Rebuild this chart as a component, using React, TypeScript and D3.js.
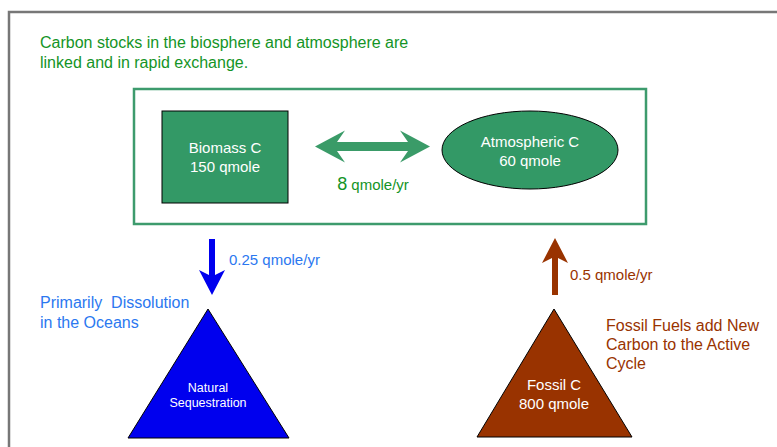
import React, { useRef, useEffect } from "react";
import * as d3 from "d3";

const W = 777;
const H = 447;

// carbon stocks, qmole
const stockNames = ["Biomass C", "Atmospheric C", "Natural Sequestration", "Fossil C"];
const stockValues: (number | null)[] = [150, 60, null, 800];
// fluxes, qmole/yr
const fluxNames = ["exchange", "sequestration", "fossil"];
const fluxValues = [8, 0.25, 0.5];
const fluxUnit = "qmole/yr";
const stockUnit = "qmole";

const headline = ["Carbon stocks in the biosphere and atmosphere are", "linked and in rapid exchange."];
const oceanNote = ["Primarily  Dissolution", "in the Oceans"];
const fossilNote = ["Fossil Fuels add New", "Carbon to the Active", "Cycle"];

const FONT = "'Liberation Sans', Arial, sans-serif";
const GREEN = "#339966";
const GREEN_TXT = "#149426";
const BLUE = "#0000ee";
const BLUE_TXT = "#2b78f0";
const BROWN = "#993300";

type Pt = [number, number];

export default function App() {
  const svgRef = useRef<SVGSVGElement>(null);

  useEffect(() => {
    drawChart();
  }, []);

  function drawChart() {
    const svg = d3.select(svgRef.current);
    svg.selectAll("*").remove();

    const poly = d3.line<Pt>().x((d) => d[0]).y((d) => d[1]);
    const shape = (pts: Pt[]) => poly(pts) + "Z";

    // vertical arrow, notched head (tip side given by yTip)
    const vArrow = (cx: number, yTail: number, yTip: number, s: number, hh: number, hl: number, n: number): Pt[] => {
      const dir = yTip > yTail ? 1 : -1;
      const outer = yTip - dir * hl;
      const join = yTip - dir * (hl - n);
      return [
        [cx - s, yTail], [cx - s, join], [cx - hh, outer], [cx, yTip],
        [cx + hh, outer], [cx + s, join], [cx + s, yTail],
      ];
    };

    const lines = (g: any, rows: string[], x: number, y: number, dy: number, size: number, color: string, anchor = "start") => {
      const t = g.append("text")
        .attr("font-family", FONT)
        .attr("font-size", size)
        .attr("fill", color)
        .attr("text-anchor", anchor)
        .style("white-space", "pre");
      rows.forEach((r, i) => {
        t.append("tspan").attr("x", x).attr("y", y + i * dy).text(r);
      });
    };

    // outer slide frame
    svg.append("path")
      .attr("d", "M9,470V12H800")
      .attr("fill", "none")
      .attr("stroke", "#777")
      .attr("stroke-width", 2.5);

    lines(svg, headline, 40, 48, 20, 16, GREEN_TXT);

    // box around the fast-exchange pool
    svg.append("rect")
      .attr("x", 134).attr("y", 89)
      .attr("width", 512).attr("height", 135)
      .attr("fill", "#fff")
      .attr("stroke", "#3d9b6d")
      .attr("stroke-width", 2.5);

    const label = (i: number) => {
      const v = stockValues[i];
      return v == null ? stockNames[i].split(" ") : [stockNames[i], `${v} ${stockUnit}`];
    };

    // biomass
    svg.append("rect")
      .attr("x", 162).attr("y", 111)
      .attr("width", 126).attr("height", 92)
      .attr("fill", GREEN)
      .attr("stroke", "#000")
      .attr("stroke-width", 1);
    lines(svg, label(0), 225, 153, 19, 15, "#fff", "middle");

    // atmosphere
    svg.append("ellipse")
      .attr("cx", 530).attr("cy", 150)
      .attr("rx", 88).attr("ry", 39)
      .attr("fill", GREEN)
      .attr("stroke", "#000")
      .attr("stroke-width", 1);
    lines(svg, label(1), 530, 147, 19, 15, "#fff", "middle");

    // two-way exchange arrow
    const x1 = 315, x2 = 430, cy = 146.5, s = 4.5, hh = 16, hl = 30, n = 8;
    svg.append("path")
      .attr("d", shape([
        [x1, cy], [x1 + hl, cy - hh], [x1 + hl - n, cy - s], [x2 - hl + n, cy - s], [x2 - hl, cy - hh],
        [x2, cy], [x2 - hl, cy + hh], [x2 - hl + n, cy + s], [x1 + hl - n, cy + s], [x1 + hl, cy + hh],
      ]))
      .attr("fill", "#3a9b68");

    const ex = svg.append("text")
      .attr("x", 373).attr("y", 190)
      .attr("text-anchor", "middle")
      .attr("font-family", FONT)
      .attr("fill", GREEN_TXT);
    ex.append("tspan").attr("font-size", 18).text(String(fluxValues[fluxNames.indexOf("exchange")]));
    ex.append("tspan").attr("font-size", 15).text(" " + fluxUnit);

    // sequestration flux (down)
    svg.append("path")
      .attr("d", shape(vArrow(212, 239, 295, 3, 13, 25, 5)))
      .attr("fill", BLUE);
    lines(svg, [`${fluxValues[1]} ${fluxUnit}`], 229, 265, 0, 15, BLUE_TXT);
    lines(svg, oceanNote, 40, 308, 20, 16, BLUE_TXT);

    // natural sequestration pool
    svg.append("path")
      .attr("d", shape([[208, 309], [289, 438], [128, 438]]))
      .attr("fill", BLUE)
      .attr("stroke", "#000")
      .attr("stroke-width", 1);
    lines(svg, label(2), 208, 392, 14.5, 12.5, "#fff", "middle");

    // fossil flux (up)
    svg.append("path")
      .attr("d", shape(vArrow(555, 295, 238, 3, 13, 25, 5)))
      .attr("fill", BROWN);
    lines(svg, [`${fluxValues[2]} ${fluxUnit}`], 570, 280, 0, 15, BROWN);
    lines(svg, fossilNote, 606, 331, 19, 16, BROWN);

    // fossil pool
    svg.append("path")
      .attr("d", shape([[554, 309], [632, 437], [477, 437]]))
      .attr("fill", BROWN)
      .attr("stroke", "#000")
      .attr("stroke-width", 1);
    lines(svg, label(3), 554, 390, 19, 15, "#fff", "middle");
  }

  return (
    <div style={{ position: "fixed", left: 0, top: 0, width: W, height: H, background: "#fff" }}>
      <svg ref={svgRef} width={W} height={H} />
    </div>
  );
}
